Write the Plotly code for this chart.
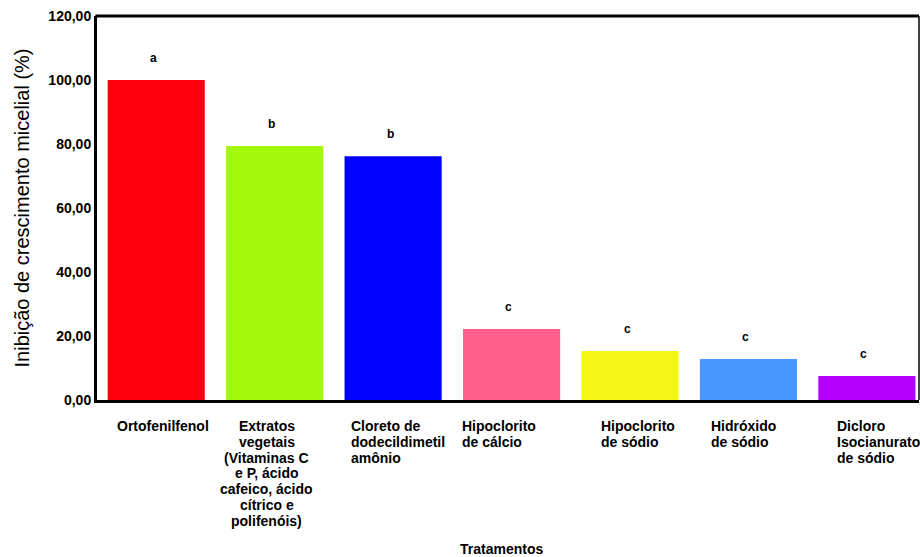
import plotly.graph_objects as go

categories = ["Ortofenilfenol", "Extratos vegetais", "Cloreto de dodecildimetil amônio",
              "Hipoclorito de cálcio", "Hipoclorito de sódio", "Hidróxido de sódio",
              "Dicloro Isocianurato de sódio"]
tick_labels = [["Ortofenilfenol"],
               ["Extratos", "vegetais", "(Vitaminas C", "e P, ácido", "cafeico, ácido", "cítrico e", "polifenóis)"],
               ["Cloreto de", "dodecildimetil", "amônio"],
               ["Hipoclorito", "de cálcio"],
               ["Hipoclorito", "de sódio"],
               ["Hidróxido", "de sódio"],
               ["Dicloro", "Isocianurato", "de sódio"]]
values = [100.0, 79.4, 76.2, 22.2, 15.3, 12.8, 7.5]
letters = ["a", "b", "b", "c", "c", "c", "c"]
colors = ["#FF0010", "#A2F70A", "#0000FF", "#FF5F8A", "#F4F615", "#4A98FF", "#B400FF"]
y_ticks = [0, 20, 40, 60, 80, 100, 120]
y_tick_text = ["0,00", "20,00", "40,00", "60,00", "80,00", "100,00", "120,00"]

# label alignment per category (text layout only)
label_align = ["center", "center", "left", "left", "left", "left", "left"]
label_shift = [7, -8, -44, -52, -31, -39, -32]

fig = go.Figure()
fig.add_trace(go.Bar(
    x=list(range(len(categories))), y=values, marker_color=colors,
    marker_line_width=0, width=0.82, hoverinfo="y", showlegend=False,
))

annotations = []
for i, (v, l) in enumerate(zip(values, letters)):
    annotations.append(dict(x=i, y=v, text=l, showarrow=False, yshift=22,
                            xshift=-3, font=dict(family="Liberation Sans", size=12, color="black", weight="bold")))
for i, lines in enumerate(tick_labels):
    for k, t in enumerate(lines):
        annotations.append(dict(x=i, y=0, xref="x", yref="y", text=t, showarrow=False,
                                xanchor="center" if label_align[i] == "center" else "left",
                                align=label_align[i], yanchor="middle",
                                yshift=-26 - 15.8 * k, xshift=label_shift[i],
                                font=dict(family="Liberation Sans", size=14, color="black", weight="bold")))
annotations.append(dict(x=0.492, y=0, xref="paper", yref="paper", text="Tratamentos",
                        showarrow=False, yanchor="middle", yshift=-149,
                        font=dict(family="Liberation Sans", size=14, color="black", weight="bold")))

fig.update_layout(
    width=920, height=557,
    margin=dict(l=97, r=1, t=16, b=157),
    paper_bgcolor="white", plot_bgcolor="white",
    xaxis=dict(range=[-0.5, 6.44], showticklabels=False, ticks="", showgrid=False,
               zeroline=False, showline=True, linecolor="black", linewidth=3),
    yaxis=dict(range=[0, 120], tickvals=y_ticks, ticktext=y_tick_text, showgrid=False,
               zeroline=False, showline=True, linecolor="black", linewidth=3, ticks="",
               tickfont=dict(family="Liberation Sans", size=14, color="black", weight="bold"),
               title=dict(text="Inibição de crescimento micelial (%)", standoff=14,
                          font=dict(family="Liberation Sans", size=20, color="black"))),
    annotations=annotations,
    shapes=[
        dict(type="line", xref="paper", yref="paper", x0=-0.002, x1=1, y0=1, y1=1,
             line=dict(color="black", width=3)),
        dict(type="line", xref="paper", yref="paper", x0=1, x1=1, y0=0, y1=1,
             line=dict(color="black", width=1.5)),
    ],
)

fig.write_html("out.html")
